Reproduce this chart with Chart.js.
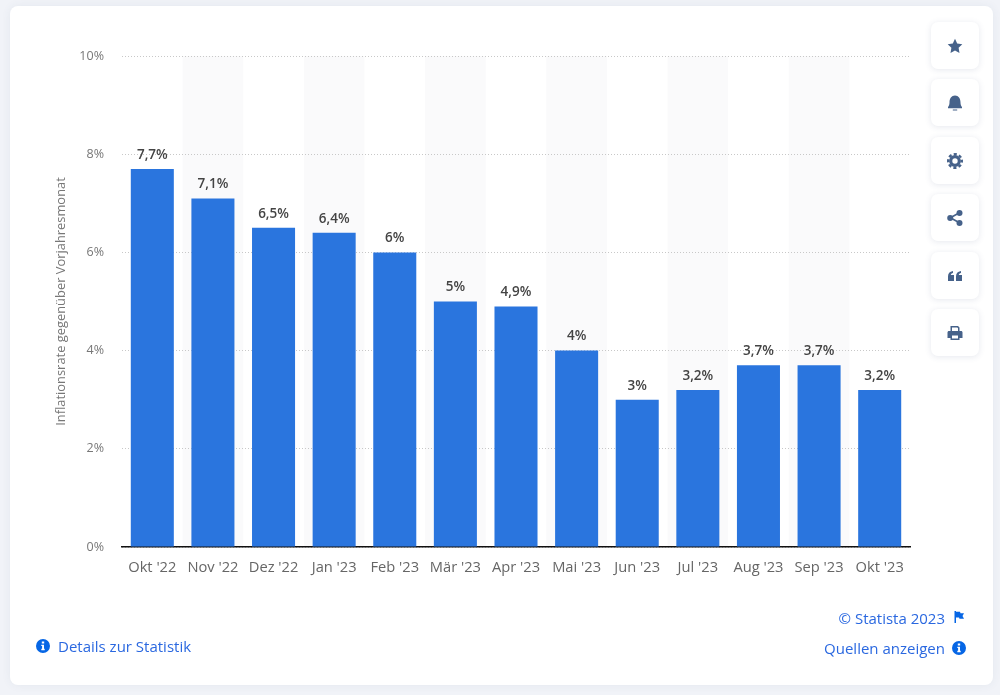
<!DOCTYPE html>
<html lang="de">
<head>
<meta charset="utf-8">
<title>Inflationsrate</title>
<script src="https://cdn.jsdelivr.net/npm/chart.js@4"></script>
<style>
  html, body { margin: 0; width: 1000px; height: 695px; overflow: hidden; background: #f1f3f8; font-family: "Open Sans", sans-serif; }
  #card { position: absolute; left: 10px; top: 6px; width: 983px; height: 679px; background: #fff; border-radius: 8px; box-shadow: 0 0 10px rgba(60, 80, 120, .07); }
  #barChart { position: absolute; left: 0; top: 0; }
  .btn { position: absolute; left: 931px; width: 48px; height: 47px; background: #fff; border-radius: 7px; box-shadow: 0 1px 6px rgba(60, 80, 120, .13); display: flex; align-items: center; justify-content: center; }
  .btn svg { width: 16px; height: 16px; fill: #46628a; }
  .link { position: absolute; font-size: 15px; line-height: 20px; color: #2a68e0; white-space: nowrap; }
  .ico { position: absolute; width: 14px; height: 14px; fill: #0666e5; }
</style>
</head>
<body>
<div id="card"></div>
<canvas id="barChart" width="1000" height="695"></canvas>

<div class="btn" style="top:22px"><svg viewBox="0 0 16 16"><path d="M8 .8l2.200 4.700 5.100.7-3.700 3.600.9 5.100L8 12.500l-4.500 2.400.9-5.100L.7 6.200l5.100-.7z"/></svg></div>
<div class="btn" style="top:79px"><svg viewBox="0 0 16 16"><path d="M8 .5c3.500 0 5.500 3 5.500 7 0 2 .7 3.500 1.500 4.500v1.300H1V12c.8-1 1.500-2.500 1.500-4.500C2.500 3.500 4.500.5 8 .5zM5.800 14.500h4.400v1H5.800z"/></svg></div>
<div class="btn" style="top:137px"><svg viewBox="0 0 16 16"><circle cx="8" cy="8" r="4.300" fill="none" stroke="#46628a" stroke-width="3.200"/><circle cx="8" cy="8" r="6.800" fill="none" stroke="#46628a" stroke-width="2.400" stroke-dasharray="3.100 2.240" stroke-dashoffset="1.500"/></svg></div>
<div class="btn" style="top:194px"><svg viewBox="0 0 16 16"><circle cx="3.200" cy="8" r="3"/><circle cx="12.500" cy="3" r="3"/><circle cx="12.500" cy="13" r="3"/><path d="M3 7l9-5 .8 1.500-9 5zM3.800 7l9 5-.8 1.500-9-5z"/></svg></div>
<div class="btn" style="top:252px"><svg viewBox="0 0 16 16"><path d="M1 8.500C1 5.500 2.500 3.500 6 3v2C4.500 5.300 4 6 3.800 7H7v6H1zM9 8.500C9 5.500 10.500 3.500 14 3v2c-1.500.3-2 1-2.200 2H15v6H9z"/></svg></div>
<div class="btn" style="top:309px"><svg viewBox="0 0 16 16"><path fill-rule="evenodd" d="M3.500 1h7.500l1.500 1.500V6H14c1 0 1.500.7 1.500 1.500V13h-3v2h-9v-2h-3V7.500C.5 6.700 1 6 2 6h1.500zM5 2.500V6h6V3.200l-.7-.7zM5 10.500v3h6v-3z"/></svg></div>

<svg class="ico" style="left:36px;top:639px" viewBox="0 0 14 14"><use href="#info"/></svg>
<div class="link" style="left:58px;top:636px">Details zur Statistik</div>
<div class="link" style="right:55px;top:608px">© Statista 2023</div>
<svg class="ico" style="left:953px;top:611px;width:12px;height:12px" viewBox="0 0 12 12"><path d="M1.500 0h1.500v12H1.500zM3 .8h4l.5 1.500H11L9.500 5 11 7.800H6.500L6 6.500H3z"/></svg>
<div class="link" style="right:55px;top:638px">Quellen anzeigen</div>
<svg class="ico" style="left:952px;top:641px" viewBox="0 0 14 14"><use href="#info"/></svg>
<svg width="0" height="0" style="position:absolute"><defs><g id="info"><path fill-rule="evenodd" d="M7 0a7 7 0 1 1 0 14A7 7 0 0 1 7 0zM5.800 2.600v2h2.400v-2zM5.300 5.800v1.300h.8v2.700h-.8v1.400h3.400V9.800h-.7v-4z"/></g></defs></svg>

<script>
const categories = ["Okt '22", "Nov '22", "Dez '22", "Jan '23", "Feb '23", "Mär '23", "Apr '23", "Mai '23", "Jun '23", "Jul '23", "Aug '23", "Sep '23", "Okt '23"];
const inflation = [7.7, 7.1, 6.5, 6.4, 6, 5, 4.9, 4, 3, 3.2, 3.7, 3.7, 3.2];
const yTicks = [0, 2, 4, 6, 8, 10];

const fmt = v => String(v).replace(".", ",") + "%";

// abwechselnde Streifen hinter den Balken
const stripes = {
  id: "stripes",
  beforeDraw(chart) {
    const { ctx, chartArea, scales } = chart;
    const step = scales.x.getPixelForValue(1) - scales.x.getPixelForValue(0);
    ctx.save();
    ctx.fillStyle = "#fafafb";
    categories.forEach((c, i) => {
      if (i % 2 === 1) {
        ctx.fillRect(scales.x.getPixelForValue(i) - step / 2, chartArea.top, step, chartArea.height);
      }
    });
    ctx.restore();
  },
};

// Werte ueber den Balken
const barValues = {
  id: "barValues",
  afterDatasetsDraw(chart) {
    const { ctx } = chart;
    ctx.save();
    ctx.font = "600 13.5px 'Open Sans'";
    ctx.fillStyle = "#444444";
    ctx.textAlign = "center";
    ctx.textBaseline = "middle";
    chart.getDatasetMeta(0).data.forEach((bar, i) => {
      ctx.fillText(fmt(inflation[i]), bar.x, bar.y - 14);
    });
    ctx.restore();
  },
};

new Chart(document.getElementById("barChart").getContext("2d"), {
  type: "bar",
  data: {
    labels: categories,
    datasets: [
      {
        data: inflation,
        backgroundColor: "#2a75de",
        borderWidth: 0,
        barPercentage: 0.71,
        categoryPercentage: 1,
      },
    ],
  },
  plugins: [stripes, barValues],
  options: {
    responsive: false,
    animation: false,
    layout: { padding: { left: 0, right: 90, top: 56, bottom: 0 } },
    plugins: { legend: { display: false }, tooltip: { enabled: false } },
    scales: {
      x: {
        afterFit: s => { s.height = 148; },
        grid: { display: false },
        border: { color: "#111111", width: 1.5 },
        ticks: { color: "#666666", font: { family: "Open Sans", size: 14.7 }, padding: 4, maxRotation: 0, autoSkip: false },
      },
      y: {
        min: 0,
        max: 10,
        afterFit: s => { s.width = 122; },
        afterBuildTicks: s => { s.ticks = yTicks.map(value => ({ value })); },
        grid: { color: "#c8c8c8", lineWidth: 1, drawTicks: false },
        border: { display: false, dash: [1, 2] },
        ticks: { color: "#777777", font: { family: "Open Sans", size: 12.5 }, padding: 18, labelOffset: 0, callback: v => v + "%" },
        title: {
          display: true,
          text: "Inflationsrate gegenüber Vorjahresmonat",
          color: "#777777",
          font: { family: "Open Sans", size: 12.9, weight: "normal" },
          padding: { top: 54, bottom: 0 },
        },
      },
    },
  },
});
</script>
</body>
</html>
